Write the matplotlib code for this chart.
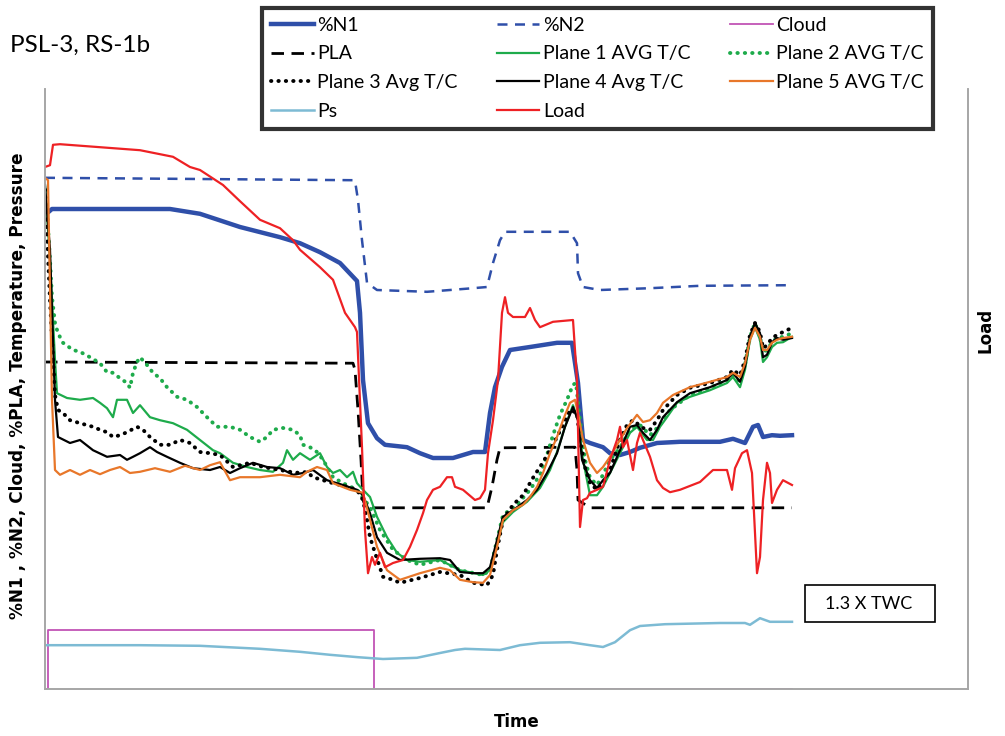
import matplotlib
matplotlib.use("Agg")
import matplotlib.pyplot as plt
from matplotlib.patches import Rectangle

# ---- data (time in s, left axis in %, load on its own axis) -------------
n1_t = [0, 7, 125, 155, 195, 235, 255, 275, 295, 312, 315, 318, 323, 332, 340, 362, 375, 388, 408,
        428, 440, 445, 450, 457, 465, 485, 512, 527, 533, 538, 545, 558, 565, 575, 585, 595, 612,
        635, 675, 688, 700, 708, 713, 718, 727, 735, 747]
n1_v = [79.0, 80.0, 80.0, 79.2, 77.0, 75.3, 74.3, 72.8, 71.0, 68.0, 62.7, 51.5, 44.3, 41.8, 40.7,
        40.3, 39.3, 38.5, 38.5, 39.5, 39.5, 46.0, 50.3, 53.7, 56.5, 57.0, 57.7, 57.7, 51.0, 41.5,
        41.0, 40.3, 39.3, 39.0, 39.5, 40.2, 41.0, 41.2, 41.2, 41.7, 41.0, 43.7, 44.0, 42.0, 42.3,
        42.2, 42.3]

n2_t = [0, 308, 310, 313, 317, 322, 332, 382, 428, 442, 448, 455, 460, 525, 532, 533, 538, 555,
        605, 655, 747]
n2_v = [85.2, 84.8, 84.7, 81.5, 74.8, 67.7, 66.5, 66.2, 66.8, 67.0, 71.0, 74.8, 76.2, 76.2, 74.3,
        69.3, 67.0, 66.5, 66.8, 67.2, 67.3]

cloud_t = [0, 3, 329, 747]
cloud_v = [0, 9.8, 0, 0]

pla_t = [0, 308, 310, 313, 316, 318, 321, 442, 447, 452, 455, 530, 532, 533, 545, 747]
pla_v = [54.5, 54.3, 53.2, 46.5, 38.2, 31.5, 30.2, 30.2, 33.7, 38.2, 40.2, 40.3, 36.5, 31.5, 30.2,
         30.2]

p1_t = [0, 5, 10, 12, 22, 35, 48, 55, 62, 68, 72, 82, 88, 95, 105, 115, 128, 142, 155, 168, 175,
        188, 202, 215, 228, 238, 242, 248, 255, 265, 275, 282, 288, 295, 302, 308, 312, 318, 325,
        332, 342, 352, 362, 375, 395, 415, 438, 445, 452, 458, 468, 482, 495, 505, 512, 520, 528,
        533, 538, 545, 552, 558, 565, 575, 585, 592, 602, 608, 615, 622, 632, 645, 665, 682, 688,
        695, 700, 705, 710, 715, 718, 722, 727, 732, 738, 747]
p1_v = [84.0, 71.5, 54.8, 49.3, 48.5, 48.2, 48.5, 47.7, 46.8, 45.3, 48.2, 48.2, 46.0, 47.3, 45.3,
        44.8, 44.3, 43.2, 41.5, 39.8, 39.3, 37.7, 37.0, 36.5, 36.2, 37.7, 39.8, 38.2, 39.3, 38.2,
        39.3, 37.0, 36.0, 36.5, 35.3, 36.2, 34.3, 33.2, 32.0, 28.7, 25.3, 22.7, 21.5, 21.2, 21.5,
        19.8, 19.0, 19.8, 24.0, 27.8, 29.5, 31.2, 33.5, 36.5, 39.5, 43.7, 47.3, 44.8, 38.2, 32.3,
        32.3, 33.7, 36.0, 39.3, 42.7, 43.7, 41.5, 41.5, 43.7, 45.3, 47.7, 48.7, 49.8, 51.0, 52.0,
        50.3, 53.2, 58.2, 60.3, 58.2, 54.5, 55.3, 57.0, 57.7, 57.8, 58.7]

p2_t = [0, 2, 5, 7, 10, 13, 18, 28, 35, 45, 55, 62, 68, 75, 82, 85, 88, 92, 95, 102, 108, 115,
        122, 132, 142, 152, 162, 172, 185, 195, 205, 215, 222, 228, 238, 248, 255, 258, 265, 272,
        278, 288, 298, 312, 325, 335, 348, 362, 375, 395, 415, 438, 445, 452, 458, 472, 485, 495,
        502, 508, 515, 522, 528, 531, 535, 540, 545, 552, 558, 565, 575, 585, 595, 605, 615, 625,
        645, 665, 682, 688, 695, 700, 705, 710, 715, 718, 722, 727, 732, 738, 747]
p2_v = [83.2, 79.8, 71.5, 65.3, 61.0, 59.3, 57.7, 56.5, 56.2, 55.3, 54.3, 52.8, 52.7, 51.8, 51.0,
        50.2, 52.7, 54.5, 55.3, 54.0, 52.7, 51.8, 50.3, 48.7, 48.2, 47.0, 45.3, 43.7, 43.7, 43.2,
        42.0, 41.2, 42.0, 43.2, 43.5, 43.2, 42.3, 40.7, 40.3, 39.5, 38.2, 35.3, 34.3, 33.2, 30.3,
        26.5, 23.2, 21.5, 20.7, 21.5, 19.8, 19.0, 19.8, 24.8, 29.0, 30.7, 33.2, 35.7, 39.0, 42.3,
        45.7, 48.2, 50.7, 51.0, 44.8, 38.2, 35.2, 34.0, 35.7, 38.2, 40.2, 43.2, 44.0, 42.3, 44.0,
        46.5, 49.0, 50.2, 51.5, 52.3, 51.2, 54.0, 58.7, 61.0, 58.7, 56.2, 56.5, 57.8, 58.5, 58.7,
        59.3]

p3_t = [0, 5, 10, 13, 18, 25, 35, 48, 55, 62, 68, 75, 82, 92, 98, 105, 115, 125, 135, 145, 155,
        165, 175, 188, 205, 218, 235, 245, 255, 262, 268, 278, 288, 302, 312, 318, 322, 325, 330,
        338, 348, 355, 375, 395, 415, 428, 442, 448, 452, 458, 468, 478, 488, 498, 508, 518, 525,
        532, 535, 540, 545, 552, 558, 565, 575, 582, 588, 598, 605, 612, 618, 632, 645, 665, 682,
        688, 695, 700, 705, 710, 715, 718, 722, 727, 732, 738, 747]
p3_v = [83.2, 64.8, 49.0, 46.5, 46.0, 44.8, 44.3, 43.7, 43.2, 42.8, 42.0, 42.3, 42.8, 43.7, 43.2,
        42.0, 40.7, 40.7, 41.5, 41.0, 39.5, 39.3, 39.0, 37.0, 37.7, 37.0, 36.5, 36.2, 36.0, 36.2,
        35.3, 34.8, 34.3, 33.7, 33.2, 31.5, 28.2, 25.3, 22.7, 18.7, 18.2, 17.7, 18.5, 19.5, 19.0,
        17.7, 17.3, 19.0, 23.2, 28.2, 30.7, 32.3, 35.2, 37.8, 40.7, 44.0, 46.5, 46.0, 41.5, 37.0,
        34.3, 33.2, 34.3, 36.5, 41.5, 44.0, 44.8, 43.5, 43.2, 44.8, 46.5, 49.0, 50.2, 51.0, 52.0,
        53.2, 52.3, 54.8, 59.0, 61.0, 59.5, 56.8, 57.3, 58.5, 59.0, 59.5, 60.2]

p4_t = [0, 5, 10, 13, 25, 35, 48, 62, 75, 82, 88, 95, 105, 112, 122, 135, 148, 165, 175, 185,
        195, 208, 222, 235, 248, 258, 268, 282, 298, 312, 318, 325, 332, 342, 355, 375, 395, 405,
        415, 428, 438, 445, 452, 458, 468, 482, 492, 502, 512, 520, 528, 533, 537, 545, 552, 558,
        565, 575, 585, 592, 598, 605, 612, 618, 632, 645, 665, 682, 688, 695, 700, 705, 710, 715,
        718, 722, 727, 732, 738, 747]
p4_v = [84.0, 73.2, 48.2, 42.0, 41.0, 41.5, 39.8, 38.7, 39.0, 38.2, 38.7, 39.3, 40.3, 39.5, 38.7,
        37.7, 36.8, 36.5, 37.0, 36.0, 36.8, 37.7, 37.0, 36.8, 35.7, 36.0, 36.5, 34.8, 34.0, 33.2,
        32.3, 29.3, 25.3, 22.7, 21.5, 21.7, 21.8, 21.5, 19.5, 19.3, 19.3, 20.3, 24.8, 28.7, 29.8,
        31.5, 33.2, 36.0, 39.3, 43.7, 47.0, 44.8, 38.2, 34.8, 33.5, 34.8, 36.0, 39.8, 43.7, 44.0,
        42.7, 41.5, 43.2, 45.3, 47.8, 49.3, 50.3, 51.5, 52.7, 51.2, 53.7, 58.7, 61.0, 59.3, 55.3,
        55.7, 57.8, 58.5, 58.2, 58.5]

p5_t = [0, 3, 7, 10, 15, 25, 35, 45, 55, 65, 75, 85, 95, 110, 125, 140, 155, 165, 175, 185, 195,
        215, 235, 255, 262, 272, 282, 288, 305, 318, 325, 332, 342, 355, 375, 395, 405, 415, 428,
        438, 445, 452, 458, 468, 478, 485, 492, 498, 505, 512, 518, 525, 530, 533, 538, 545, 552,
        558, 565, 575, 582, 588, 592, 598, 605, 612, 618, 628, 645, 665, 682, 688, 695, 700, 705,
        710, 715, 718, 722, 727, 732, 738, 747]
p5_v = [85.2, 84.8, 48.2, 36.5, 35.7, 36.5, 35.7, 36.5, 35.8, 36.5, 37.0, 36.0, 36.2, 36.8, 36.2,
        37.2, 36.5, 37.3, 37.8, 34.8, 35.3, 35.3, 35.7, 35.3, 36.2, 37.0, 36.5, 34.3, 33.2, 32.7,
        28.2, 23.7, 19.8, 18.2, 19.3, 20.2, 19.8, 18.2, 17.8, 17.7, 19.0, 23.7, 28.2, 29.8, 30.7,
        32.0, 33.7, 36.0, 39.3, 42.0, 44.8, 47.7, 48.2, 46.0, 41.5, 37.7, 36.0, 37.0, 38.7, 41.5,
        43.5, 44.8, 45.7, 44.5, 44.8, 46.0, 47.7, 49.0, 50.3, 51.2, 52.0, 52.7, 52.0, 54.3, 58.2,
        60.2, 58.7, 56.5, 56.5, 57.7, 58.2, 58.5, 58.7]

ps_t = [0, 95, 155, 215, 255, 285, 313, 338, 372, 395, 410, 420, 455, 475, 495, 525, 545, 558,
        570, 585, 595, 620, 675, 700, 705, 715, 725, 747]
ps_v = [7.3, 7.3, 7.2, 6.7, 6.2, 5.7, 5.3, 5.0, 5.2, 6.0, 6.5, 6.7, 6.5, 7.3, 7.7, 7.8, 7.3, 7.0,
        7.8, 9.8, 10.5, 10.8, 11.0, 11.0, 10.7, 11.8, 11.2, 11.2]

load_t = [0, 5, 8, 15, 55, 95, 128, 145, 155, 178, 195, 215, 235, 248, 255, 275, 288, 300, 310,
          312, 317, 320, 323, 327, 330, 335, 340, 348, 358, 365, 372, 378, 382, 388, 395, 402,
          407, 410, 418, 430, 435, 440, 443, 448, 453, 457, 460, 463, 468, 480, 485, 490, 495,
          508, 528, 532, 535, 538, 542, 545, 552, 558, 565, 572, 575, 578, 582, 588, 592, 595,
          598, 605, 612, 618, 625, 635, 655, 668, 682, 687, 690, 697, 702, 707, 710, 712, 715,
          718, 722, 725, 727, 732, 738, 747]
load_v = [87.0, 87.3, 90.7, 90.8, 90.3, 89.8, 88.7, 87.0, 86.5, 84.0, 81.3, 78.2, 76.8, 74.8, 73.2,
          70.3, 68.2, 62.7, 60.3, 59.5, 40.3, 26.5, 19.3, 22.0, 20.7, 22.7, 20.3, 21.0, 21.5, 23.7,
          26.5, 29.3, 31.5, 33.2, 33.7, 35.3, 35.3, 33.7, 33.2, 31.5, 31.8, 33.2, 39.3, 44.8, 51.5,
          62.7, 65.3, 62.7, 62.0, 62.0, 63.5, 61.5, 60.3, 61.2, 61.5, 51.5, 27.0, 31.5, 31.8, 32.7,
          33.2, 33.7, 38.2, 41.5, 43.7, 40.3, 41.5, 36.5, 41.0, 42.7, 41.5, 38.7, 34.8, 33.5, 32.8,
          33.2, 34.5, 36.5, 36.5, 33.2, 36.8, 39.3, 39.8, 36.0, 26.0, 19.3, 22.0, 31.5, 37.7, 36.0,
          31.0, 33.2, 34.8, 34.0]

# ---- styling ----------------------------------------------------------------
C_BLUE = "#2F4FA9"
C_GREEN = "#1EAB4B"
C_ORANGE = "#E8772A"
C_RED = "#EE2124"
C_PS = "#7DBBD4"
C_CLOUD = "#C154B5"
DOTS = (0, (0.1, 1.8))

plt.rcParams["font.family"] = ["Lato", "DejaVu Sans"]

fig = plt.figure(figsize=(10.05, 7.36), dpi=100)
W, H = 1005.0, 736.0
ax = fig.add_axes([45 / W, (H - 689) / H, (968 - 45) / W, 600 / H])
ax2 = ax.twinx()

h_n1, = ax.plot(n1_t, n1_v, color=C_BLUE, lw=3.2, label="%N1")
h_n2, = ax.plot(n2_t, n2_v, color=C_BLUE, lw=1.8, ls=(0, (4, 3)), label="%N2")
h_cloud, = ax.plot(cloud_t, cloud_v, color=C_CLOUD, lw=1.3, drawstyle="steps-post", label="Cloud")
h_pla, = ax.plot(pla_t, pla_v, color="black", lw=2.0, ls=(0, (4.5, 2.7)), label="PLA")
h_p1, = ax.plot(p1_t, p1_v, color=C_GREEN, lw=1.6, label="Plane 1 AVG T/C")
h_p2, = ax.plot(p2_t, p2_v, color=C_GREEN, lw=2.8, ls=DOTS, dash_capstyle="round",
                label="Plane 2 AVG T/C")
h_p3, = ax.plot(p3_t, p3_v, color="black", lw=2.8, ls=DOTS, dash_capstyle="round",
                label="Plane 3 Avg T/C")
h_p4, = ax.plot(p4_t, p4_v, color="black", lw=1.6, label="Plane 4 Avg T/C")
h_p5, = ax.plot(p5_t, p5_v, color=C_ORANGE, lw=1.6, label="Plane 5 AVG T/C")
h_ps, = ax.plot(ps_t, ps_v, color=C_PS, lw=1.8, label="Ps")
h_load, = ax2.plot(load_t, load_v, color=C_RED, lw=1.6, label="Load")

for a in (ax, ax2):
    a.set_xlim(0, 923)
    a.set_ylim(0, 100)
    a.set_xticks([])
    a.set_yticks([])
    a.spines["top"].set_visible(False)
    for s in ("left", "right", "bottom"):
        a.spines[s].set_color("#A6A6A6")
        a.spines[s].set_linewidth(1.2)

# legend filled column by column so rows read across
handles = [h_n1, h_pla, h_p3, h_ps, h_n2, h_p1, h_p4, h_load, h_cloud, h_p2, h_p5]
leg = fig.legend(handles=handles, labels=[h.get_label() for h in handles], ncol=3,
                 loc="upper left", bbox_to_anchor=(262 / W, 1 - 8 / H), borderaxespad=0,
                 fontsize=14, frameon=True, fancybox=False, handlelength=2.2,
                 handletextpad=0.2, columnspacing=2.0, labelspacing=0.6, borderpad=0.45)
leg.get_frame().set_edgecolor("black")
leg.get_frame().set_linewidth(3)

fig.text(10 / W, 1 - 45 / H, "PSL-3, RS-1b", fontsize=17.5, va="center", ha="left")
fig.text(18 / W, 1 - 386 / H, "%N1 , %N2, Cloud, %PLA, Temperature, Pressure",
         family="DejaVu Sans", fontweight="bold", fontsize=12.2, rotation=90,
         va="center", ha="center")
fig.text(517 / W, 1 - 722 / H, "Time", family="DejaVu Sans", fontweight="bold",
         fontsize=12, va="center", ha="center")
fig.text(985 / W, 1 - 330 / H, "Load", family="DejaVu Sans", fontweight="bold",
         fontsize=12, rotation=90, va="center", ha="center")

fig.patches.append(Rectangle((805 / W, 1 - 622 / H), 130 / W, 37 / H, transform=fig.transFigure,
                             fill=False, edgecolor="black", lw=1.2))
fig.text(869 / W, 1 - 604 / H, "1.3 X TWC", fontsize=13, va="center", ha="center")

fig.savefig("out.png", dpi=100)
